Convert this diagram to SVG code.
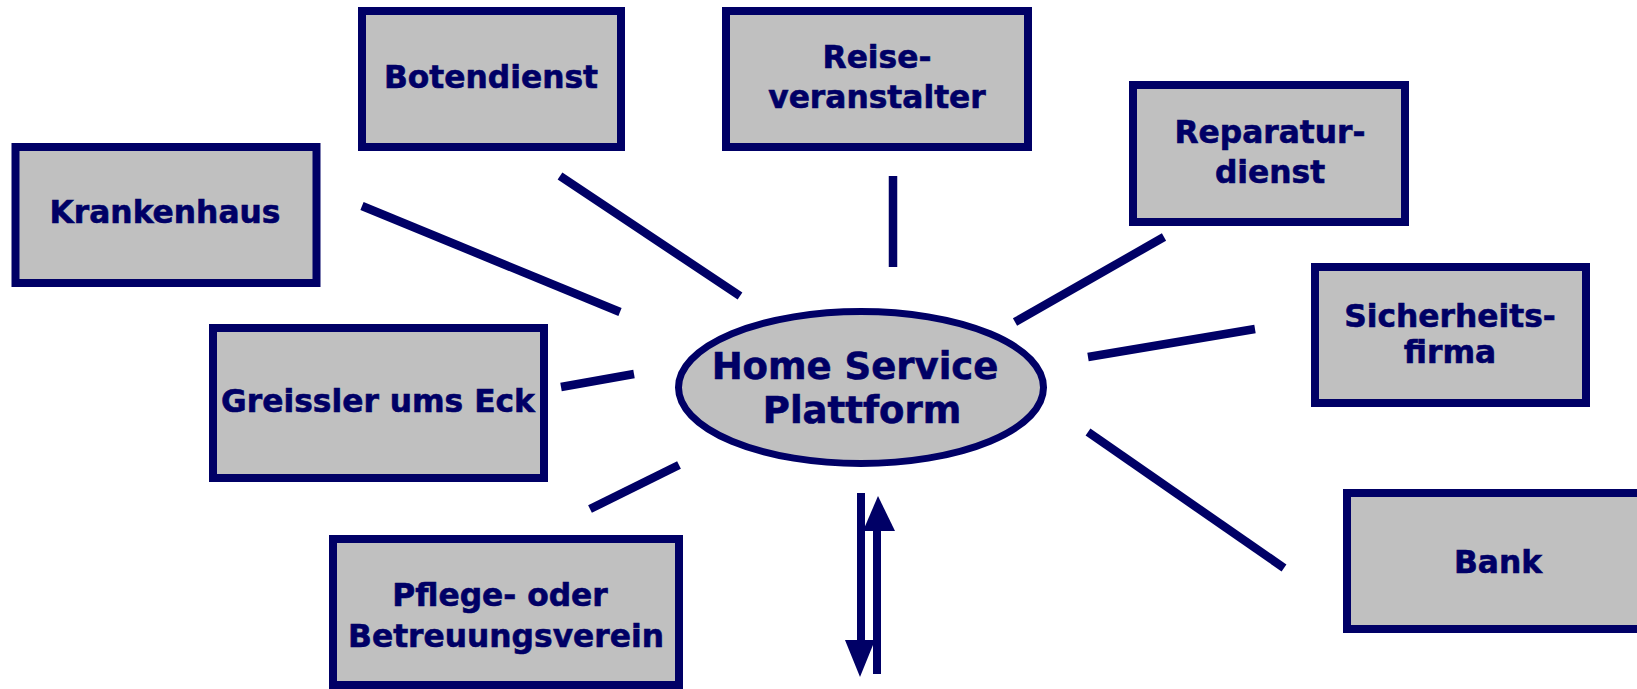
<svg xmlns="http://www.w3.org/2000/svg" width="1637" height="689" viewBox="0 0 1637 689">
<style>
.box{fill:#C0C0C0;stroke:#000066;stroke-width:8}
.ell{fill:#C0C0C0;stroke:#000066;stroke-width:7}
.t{font-family:"DejaVu Sans","Verdana",sans-serif;font-weight:bold;font-size:31.3px;fill:#000066;stroke:#000066;stroke-width:0.6;text-anchor:middle}
.tb{font-size:37px}
.ln{stroke:#000066;stroke-width:8.5;fill:none;stroke-linecap:butt}
.ar{fill:#000066}
</style>
<rect width="1637" height="689" fill="#FFFFFF"/>
<g id="connectors">
<line class="ln" x1="362" y1="206" x2="620" y2="312"/>
<line class="ln" x1="560" y1="176" x2="740" y2="296"/>
<line class="ln" x1="893" y1="176" x2="893" y2="267"/>
<line class="ln" x1="1164" y1="237" x2="1015" y2="322"/>
<line class="ln" x1="1088" y1="357" x2="1255" y2="329"/>
<line class="ln" x1="1088" y1="432" x2="1284" y2="568"/>
<line class="ln" x1="561" y1="387" x2="634" y2="374"/>
<line class="ln" x1="590" y1="509" x2="679" y2="465"/>
<line class="ln" x1="861" y1="493" x2="861" y2="642" style="stroke-width:8"/>
<polygon class="ar" points="845,640 875,640 860,677"/>
<line class="ln" x1="877" y1="674" x2="877" y2="529" style="stroke-width:8"/>
<polygon class="ar" points="863,531 895,531 878,496"/>
</g>
<g id="botendienst">
<rect class="box" x="362" y="11" width="259" height="136"/>
<text class="t" x="491" y="88">Botendienst</text>
</g>
<g id="krankenhaus">
<rect class="box" x="15.5" y="147" width="301" height="136"/>
<text class="t" x="165" y="223">Krankenhaus</text>
</g>
<g id="reiseveranstalter">
<rect class="box" x="726" y="11" width="302" height="136"/>
<text class="t" x="877" y="68">Reise-</text>
<text class="t" x="877" y="108">veranstalter</text>
</g>
<g id="reparaturdienst">
<rect class="box" x="1133" y="85" width="272" height="137"/>
<text class="t" x="1270" y="143">Reparatur-</text>
<text class="t" x="1270" y="183">dienst</text>
</g>
<g id="sicherheitsfirma">
<rect class="box" x="1315" y="267" width="271" height="136"/>
<text class="t" x="1450" y="327">Sicherheits-</text>
<text class="t" x="1450" y="363">firma</text>
</g>
<g id="bank">
<rect class="box" x="1347" y="493" width="300" height="136"/>
<text class="t" x="1498" y="573">Bank</text>
</g>
<g id="greissler">
<rect class="box" x="213" y="328" width="331" height="150"/>
<text class="t" x="378" y="412">Greissler ums Eck</text>
</g>
<g id="pflege">
<rect class="box" x="333" y="539" width="346" height="146"/>
<text class="t" x="500" y="606">Pflege- oder</text>
<text class="t" x="506" y="647">Betreuungsverein</text>
</g>
<g id="plattform">
<ellipse class="ell" cx="861" cy="387.5" rx="182.5" ry="76"/>
<text class="t tb" x="855" y="379">Home Service</text>
<text class="t tb" x="862" y="423">Plattform</text>
</g>
</svg>
